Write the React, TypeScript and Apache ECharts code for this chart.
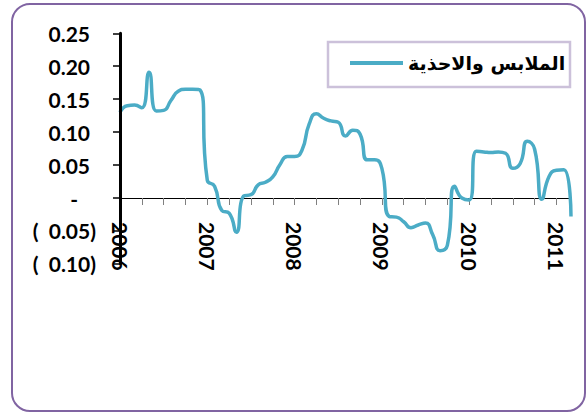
import React, { useEffect, useRef } from 'react';
import * as echarts from 'echarts';

const years = ['2006', '2007', '2008', '2009', '2010', '2011'];
const monthCodes = ['01', '02', '03', '04', '05', '06', '07', '08', '09', '10', '11', '12'];
const lastMonthCount = 63; // Jan 2006 .. Mar 2011

const seriesName = 'الملابس والاحذية';

const values = [
  0.130, 0.140, 0.141, 0.137, 0.191, 0.132, 0.133, 0.148, 0.162, 0.165, 0.165, 0.164,
  0.027, 0.018, -0.019, -0.023, -0.052, 0.003, 0.005, 0.020, 0.024, 0.032, 0.051, 0.063,
  0.063, 0.072, 0.112, 0.128, 0.121, 0.117, 0.115, 0.094, 0.103, 0.097, 0.058, 0.058,
  0.045, -0.028, -0.029, -0.036, -0.045, -0.041, -0.038, -0.056, -0.080, -0.072, 0.018, 0.000,
  -0.003, 0.071, 0.070, 0.069, 0.070, 0.068, 0.045, 0.052, 0.086, 0.074, -0.002, 0.033,
  0.042, 0.043, -0.028,
];

const categories: string[] = [];
years.forEach((y) => monthCodes.forEach((m) => categories.push(`${y}-${m}`)));
categories.length = lastMonthCount;

const yMin = -0.1;
const yMax = 0.25;
const yStep = 0.05;

const gridTop = 33.3;
const gridBottomY = 263.9;
const zeroY = gridTop + ((yMax - 0) / (yMax - yMin)) * (gridBottomY - gridTop);

function fmtY(v: number): string {
  const r = Math.round(v * 100) / 100;
  if (Math.abs(r) < 1e-9) return '{z|-}';
  if (r < 0) return `{n|(  ${Math.abs(r).toFixed(2)})}`;
  return `{p|${r.toFixed(2)}}`;
}

export default function App() {
  const ref = useRef<HTMLDivElement>(null);
  useEffect(() => {
    document.body.style.margin = '0';
    const chart = echarts.init(ref.current!, undefined, { renderer: 'svg' });
    const labelFont = { fontFamily: 'Lato', fontWeight: 'bold' as const, fontSize: 21, color: '#000' };
    chart.setOption({
      animation: false,
      backgroundColor: '#fff',
      grid: { left: 120, right: 17, top: gridTop, bottom: 414 - gridBottomY, containLabel: false },
      legend: {
        data: [seriesName],
        left: 350,
        top: 51,
        padding: 0,
        icon: 'rect',
        itemWidth: 53,
        itemHeight: 4,
        textStyle: { fontFamily: 'DejaVu Sans', fontWeight: 'bold', fontSize: 19, color: '#000', lineHeight: 24 },
      },
      graphic: [
        {
          type: 'rect',
          silent: true,
          shape: { x: 12, y: 4, width: 573, height: 407, r: 18 },
          style: { fill: 'none', stroke: '#8064A2', lineWidth: 2 },
        },
        {
          type: 'rect',
          silent: true,
          shape: { x: 328, y: 42, width: 242, height: 45 },
          style: { fill: 'none', stroke: '#CCC1DA', lineWidth: 2.5 },
        },
      ],
      xAxis: {
        type: 'category',
        data: categories,
        boundaryGap: false,
        offset: -(gridBottomY - zeroY),
        axisLine: { onZero: false, lineStyle: { color: '#000', width: 1 } },
        axisTick: { show: true, interval: 2, length: 7, lineStyle: { color: '#808080', width: 1 } },
        axisLabel: {
          interval: 11,
          rotate: -90,
          margin: 24,
          ...labelFont,
          formatter: (v: string) => v.slice(0, 4),
        },
        splitLine: { show: false },
      },
      yAxis: {
        type: 'value',
        min: yMin,
        max: yMax,
        interval: yStep,
        z: 5,
        axisLine: { show: true, lineStyle: { color: '#000', width: 3 } },
        axisTick: { show: true, length: 7, lineStyle: { color: '#000', width: 1.5 } },
        splitLine: { show: false },
        axisLabel: {
          margin: 24,
          formatter: fmtY,
          rich: {
            p: { ...labelFont, padding: [0, 6, 0, 0] },
            n: { ...labelFont },
            z: { ...labelFont, padding: [0, 18, 0, 0] },
          },
        },
      },
      series: [
        {
          name: seriesName,
          type: 'line',
          data: values,
          smooth: 0.55,
          symbol: 'none',
          lineStyle: { color: '#4BACC6', width: 3.5 },
          itemStyle: { color: '#4BACC6' },
        },
      ],
    });
    return () => chart.dispose();
  }, []);
  return <div ref={ref} style={{ width: 588, height: 414, overflow: 'hidden' }} />;
}
